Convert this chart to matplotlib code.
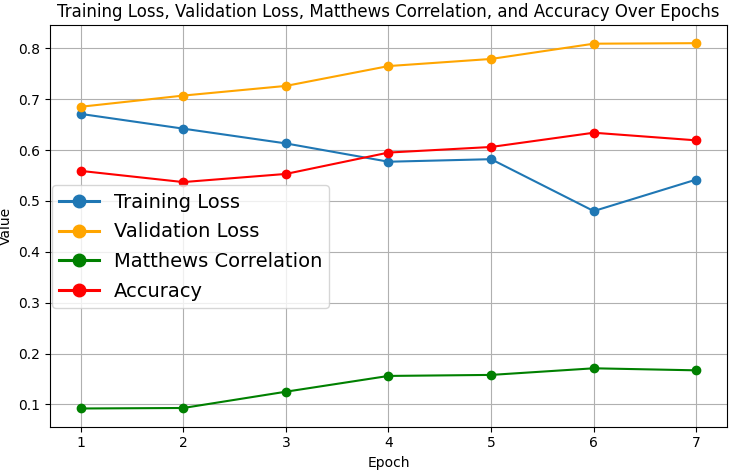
import matplotlib
matplotlib.use("Agg")
import matplotlib.pyplot as plt

# data
epochs = [1, 2, 3, 4, 5, 6, 7]
training_loss = [0.671, 0.642, 0.613, 0.577, 0.582, 0.480, 0.542]
validation_loss = [0.685, 0.707, 0.726, 0.765, 0.779, 0.809, 0.810]
matthews_corr = [0.092, 0.093, 0.125, 0.156, 0.158, 0.171, 0.167]
accuracy = [0.559, 0.537, 0.553, 0.595, 0.606, 0.634, 0.619]

fig = plt.figure(figsize=(7.33, 4.70), dpi=100)
plt.plot(epochs, training_loss, marker='o', label='Training Loss')
plt.plot(epochs, validation_loss, marker='o', color='orange', label='Validation Loss')
plt.plot(epochs, matthews_corr, marker='o', color='green', label='Matthews Correlation')
plt.plot(epochs, accuracy, marker='o', color='red', label='Accuracy')

plt.title('Training Loss, Validation Loss, Matthews Correlation, and Accuracy Over Epochs')
plt.xlabel('Epoch')
plt.ylabel('Value')
leg = plt.legend(loc='center left', bbox_to_anchor=(0.0, 0.448), fontsize=14,
                 markerscale=1.5, labelspacing=0.55, handlelength=2.05,
                 borderpad=0.38, borderaxespad=0.1, handletextpad=0.75)
for h in leg.get_lines():
    h.set_linewidth(2.2)
plt.grid(True)
plt.subplots_adjust(left=0.068, right=0.992, top=0.947, bottom=0.092)

plt.savefig('out.png')
